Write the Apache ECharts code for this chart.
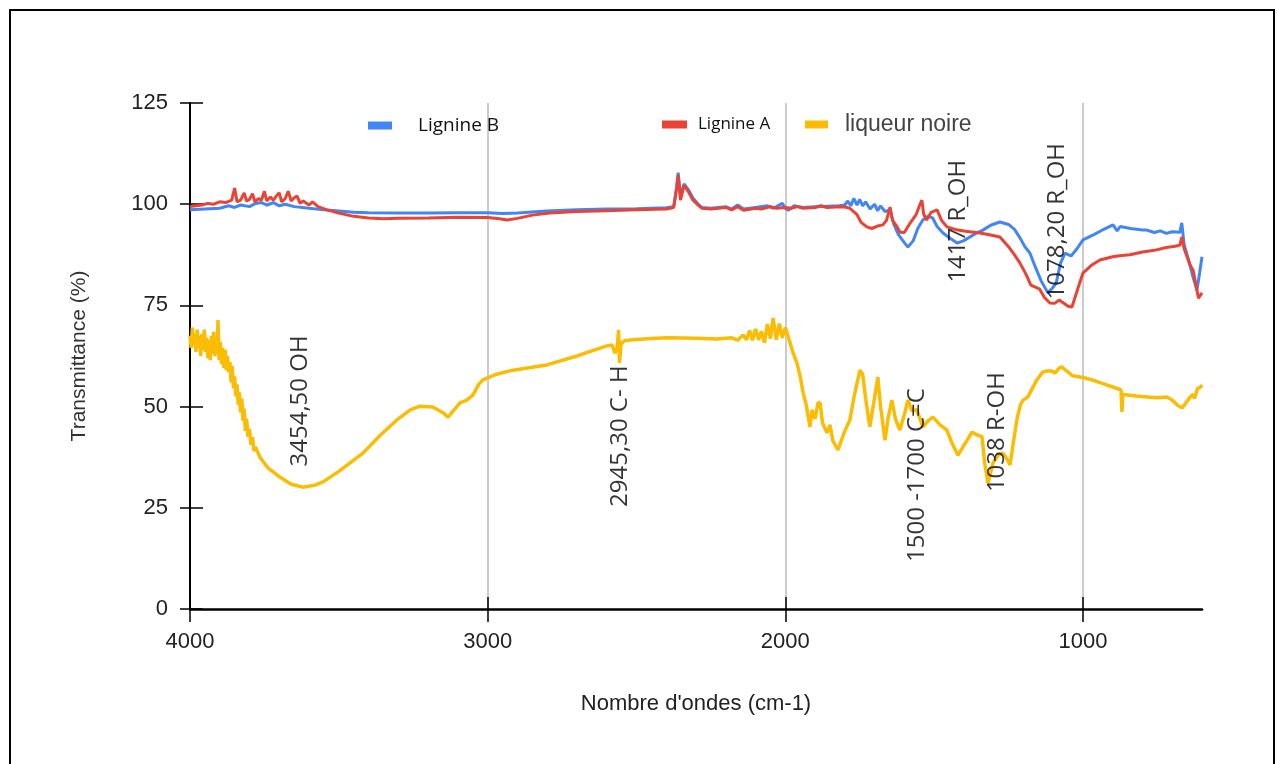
<!DOCTYPE html>
<html>
<head>
<meta charset="utf-8">
<script src="https://cdn.jsdelivr.net/npm/echarts@6/dist/echarts.min.js"></script>
<style>
  html, body { margin: 0; padding: 0; background: #fff; }
  #chart { width: 1277px; height: 764px; }
</style>
</head>
<body>
<div id="chart"></div>
<script>
// wavenumbers (cm-1) and transmittance (%)
const wnB = [4000,3950,3900,3870,3850,3830,3800,3780,3760,3741,3720,3700,3680,3650,3600,3550,3500,3450,3400,3300,3200,3100,3000,2950,2900,2800,2700,2600,2500,2400,2375,2365,2360,2352,2340,2325,2310,2290,2280,2250,2200,2180,2160,2140,2100,2060,2040,2010,2000,1990,1970,1940,1900,1860,1820,1800,1790,1780,1770,1759,1750,1740,1730,1715,1700,1690,1680,1665,1648,1635,1620,1600,1588,1570,1555,1538,1520,1505,1490,1470,1445,1423,1400,1380,1360,1336,1310,1279,1250,1230,1210,1195,1178,1160,1140,1118,1100,1090,1075,1060,1054,1040,1020,1000,960,930,899,885,875,840,800,785,760,740,720,700,674,668,660,645,630,617,608,600];
const lignineB = [98.6,98.8,99.0,99.6,99.2,99.8,99.4,100.2,100.4,99.8,100.4,99.6,100.0,99.4,99.0,98.6,98.3,98.0,97.9,97.8,97.8,97.9,97.9,97.7,97.8,98.3,98.6,98.8,98.9,99.1,99.4,104,107.8,102,105,103.5,101.5,99.8,99.2,99.0,99.4,98.8,99.8,98.8,99.2,99.6,99.0,100.2,99.0,98.5,99.6,99.2,99.4,99.5,99.6,99.8,100.8,99.6,101.4,99.8,101.2,99.6,100.6,98.8,100.0,98.4,99.6,98.2,98.6,95.0,92.5,90.5,89.4,91.0,94.0,96.1,97.0,96.6,94.5,92.9,91.5,90.4,91.0,91.9,92.8,93.6,94.8,95.6,95.0,93.8,91.5,89.5,87.9,84.5,81.0,78.1,79.5,80.5,85.5,87.9,87.9,87.2,89.0,91.2,92.6,93.8,94.9,93.4,94.5,94.0,93.6,93.6,93.0,93.4,92.8,93.2,93.1,95.4,90.0,86.2,82.0,78.8,83.0,87.0];

const wnA = [4000,3980,3960,3940,3920,3900,3880,3860,3850,3842,3830,3818,3810,3800,3790,3782,3770,3760,3750,3742,3730,3720,3710,3700,3692,3680,3670,3660,3650,3640,3630,3620,3600,3588,3570,3540,3500,3450,3400,3350,3300,3200,3100,3000,2960,2935,2900,2850,2791,2700,2600,2500,2400,2375,2365,2360,2352,2340,2325,2310,2290,2280,2250,2200,2180,2160,2140,2100,2080,2050,2030,2000,1980,1960,1940,1900,1880,1860,1820,1800,1783,1760,1745,1726,1710,1690,1672,1660,1648,1640,1625,1615,1600,1580,1560,1550,1541,1535,1525,1510,1490,1475,1457,1440,1420,1400,1380,1346,1310,1279,1250,1230,1212,1190,1175,1160,1145,1130,1111,1095,1080,1065,1050,1037,1020,1000,970,943,900,870,842,800,760,720,690,674,668,660,640,630,620,612,600];
const lignineA = [99.4,99.6,99.8,100.2,100.0,100.6,100.4,101.0,104.0,100.6,101.0,102.8,100.8,101.2,102.6,100.6,101.4,101.0,103.2,100.8,101.8,101.0,102.0,102.8,100.6,101.4,103.2,100.8,101.6,102.0,100.2,100.8,99.8,100.6,99.4,98.6,97.8,97.0,96.6,96.4,96.5,96.6,96.8,96.7,96.4,96.1,96.5,97.3,97.8,98.2,98.4,98.6,98.8,99.2,104,107.2,101,104.7,103,101,99.6,99.0,98.8,99.2,98.6,99.4,98.5,99.0,98.8,99.4,99.0,99.2,99.0,99.4,99.0,99.2,99.6,99.2,99.4,99.3,99.0,97.5,95.5,94.4,94.0,94.6,94.9,96.0,99.3,96.0,94.5,93.1,93.0,95.4,97.5,99.5,101,97.5,96.1,98.0,98.6,96.0,94.4,94.0,93.6,93.4,93.2,92.9,92.4,91.9,89.5,87.5,85.5,82.5,80.0,79.5,79.0,77.0,75.6,75.5,76.3,75.6,74.8,74.6,78.5,83.0,85.0,86.2,87.0,87.3,87.5,88.2,88.6,89.3,89.6,89.9,91.9,89.0,85.0,83.7,80.0,76.8,78.1];

const wnL = [4000,3996,3992,3988,3984,3980,3976,3972,3968,3964,3960,3956,3952,3948,3944,3940,3936,3932,3928,3924,3920,3916,3912,3908,3906,3902,3898,3894,3890,3886,3882,3878,3874,3870,3866,3862,3858,3854,3850,3846,3842,3838,3834,3830,3826,3822,3818,3814,3810,3805,3800,3795,3790,3785,3780,3765,3740,3698,3660,3620,3580,3553,3500,3450,3419,3360,3305,3260,3227,3184,3150,3133,3115,3093,3070,3049,3030,3016,2970,2915,2850,2801,2700,2640,2599,2582,2572,2565,2560,2557,2552,2540,2512,2450,2398,2300,2230,2180,2160,2142,2130,2120,2110,2100,2090,2080,2070,2060,2050,2041,2030,2020,2010,2000,1994,1985,1975,1961,1950,1940,1930,1917,1910,1900,1890,1883,1875,1860,1850,1840,1823,1810,1800,1783,1770,1760,1749,1740,1730,1716,1705,1695,1689,1680,1665,1655,1642,1630,1615,1600,1588,1575,1558,1545,1538,1520,1504,1480,1457,1440,1420,1395,1373,1355,1339,1330,1319,1302,1285,1269,1255,1245,1232,1222,1210,1201,1185,1170,1155,1135,1121,1105,1094,1080,1071,1055,1034,1000,970,930,890,872,869,866,859,820,785,750,718,700,680,667,655,640,630,625,615,605,600];
const liqueurNoire = [67.5,64.5,69.5,65.0,68.0,63.5,69.0,64.5,67.5,62.5,68.0,64.0,69.0,63.5,67.0,62.0,66.5,61.5,67.5,63.0,68.5,62.5,67.0,63.0,71.4,61.5,66.0,60.5,64.5,59.5,64.0,59.0,62.5,58.5,61.0,56.0,60.0,54.5,57.5,52.5,55.5,50.5,53.5,48.5,52.0,46.5,49.5,44.0,47.0,42.5,44.5,40.5,42.5,39.0,40.0,37.5,35.0,32.6,30.8,30.1,30.6,31.4,34.0,36.8,38.5,43.0,46.7,49.2,50.1,49.9,48.5,47.4,49.0,50.9,51.6,52.9,55.5,56.6,58.0,59.0,59.7,60.3,62.5,64.0,65.0,65.2,63.2,64.5,68.9,60.8,65.5,66.3,66.5,66.8,67.0,66.9,66.7,67.0,66.4,67.7,66.5,68.8,66.4,69.2,66.5,68.6,65.8,70.4,66.8,71.9,66.5,70.5,67.0,69.5,68.2,66.0,63.5,60.8,57.5,53.4,50.5,45.0,49.2,47.0,51.0,50.9,46.0,43.5,45.5,41.5,39.3,42.0,44.0,46.7,52.0,55.5,59.0,58.0,52.0,45.0,50.0,54.5,57.3,50.0,41.7,47.0,51.6,47.0,44.2,48.0,51.6,49.0,49.2,46.5,45.0,46.5,47.4,45.5,44.2,41.0,38.0,41.0,43.7,43.0,42.5,36.0,31.1,36.1,38.0,38.5,37.0,35.6,42.0,46.7,50.5,51.6,52.4,54.5,56.6,58.5,58.8,58.8,58.3,59.5,59.8,58.8,57.6,57.2,56.6,55.6,54.6,54.1,48.7,53.0,52.9,52.6,52.4,52.2,52.4,51.6,50.2,49.7,50.8,52.4,53.0,52.0,54.5,54.8,55.3];

// band annotations: text, wavenumber, transmittance at text centre
const annotationText = ['3454,50 OH', '2945,30 C- H', '1500 -1700 C=C', '1038 R-OH', '1417 R_OH', '1078,20 R_OH'];
const annotationWn = [3630, 2555, 1558, 1289, 1420, 1087];
const annotationT = [51.4, 42.7, 33.1, 43.7, 95.8, 95.8];

const xTicks = [1000, 2000, 3000, 4000];

const pairs = (xs, ys) => xs.map((x, i) => [x, ys[i]]);

const chart = echarts.init(document.getElementById('chart'));

const axisFont = { fontFamily: '"Liberation Sans", Arial, sans-serif', fontSize: 22, color: '#222' };

const option = {
  animation: false,
  backgroundColor: '#fff',
  grid: { left: 190, right: 75, top: 103, bottom: 155 },
  graphic: [{
    type: 'rect',
    shape: { x: 10, y: 10, width: 1264, height: 800 },
    style: { fill: 'none', stroke: '#000', lineWidth: 2 },
    silent: true
  }],
  legend: [
    {
      data: ['Lignine B'], left: 363, top: 111,
      icon: 'rect', itemWidth: 24, itemHeight: 8,
      textStyle: { fontFamily: '"Open Sans", sans-serif', fontSize: 19, color: '#111', padding: [0, 0, 0, 21] }
    },
    {
      data: ['Lignine A'], left: 657, top: 111,
      icon: 'rect', itemWidth: 25, itemHeight: 8,
      textStyle: { fontFamily: '"Open Sans", sans-serif', fontSize: 17, color: '#111', padding: [0, 0, 0, 6] }
    },
    {
      data: ['liqueur noire'], left: 800, top: 108,
      icon: 'rect', itemWidth: 23, itemHeight: 8,
      textStyle: { fontFamily: '"Liberation Sans", Arial, sans-serif', fontSize: 23, color: '#444', padding: [0, 0, 0, 12] }
    }
  ],
  xAxis: [
    {
      type: 'value', inverse: true, min: 600, max: 4000,
      name: "Nombre d'ondes (cm-1)", nameLocation: 'middle', nameGap: 84,
      nameTextStyle: Object.assign({}, axisFont, { fontSize: 22 }),
      axisLine: { lineStyle: { color: '#000', width: 2.5 } },
      axisTick: { show: true, length: 13, customValues: xTicks, lineStyle: { color: '#000', width: 1.5 } },
      axisLabel: Object.assign({ margin: 22, customValues: xTicks, formatter: (v) => String(v) }, axisFont),
      splitLine: { show: true, lineStyle: { color: '#ccc', width: 2 } }
    },
    {
      type: 'value', inverse: true, min: 600, max: 4000, position: 'bottom',
      axisLine: { show: false },
      axisTick: { show: true, inside: true, length: 12, customValues: xTicks, lineStyle: { color: '#000', width: 1.5 } },
      axisLabel: { show: false },
      splitLine: { show: false }
    }
  ],
  yAxis: [
    {
      type: 'value', min: 0, max: 125, interval: 25,
      name: 'Transmittance (%)', nameLocation: 'middle', nameGap: 100,
      nameTextStyle: Object.assign({}, axisFont, { fontSize: 21, color: '#333' }),
      axisLine: { show: true, lineStyle: { color: '#000', width: 2 } },
      axisTick: { show: true, length: 10, lineStyle: { color: '#000', width: 1.5 } },
      axisLabel: Object.assign({ margin: 22 }, axisFont),
      splitLine: { show: false }
    },
    {
      type: 'value', min: 0, max: 125, interval: 25, position: 'left',
      axisLine: { show: false },
      axisTick: { show: true, inside: true, length: 13, lineStyle: { color: '#000', width: 1.5 } },
      axisLabel: { show: false },
      splitLine: { show: false }
    }
  ],
  series: [
    {
      name: 'Lignine B', type: 'line', showSymbol: false,
      data: pairs(wnB, lignineB),
      itemStyle: { color: '#4285F4' },
      lineStyle: { color: '#4285F4', width: 3 }
    },
    {
      name: 'Lignine A', type: 'line', showSymbol: false,
      data: pairs(wnA, lignineA),
      itemStyle: { color: '#EA4335' },
      lineStyle: { color: '#EA4335', width: 3 }
    },
    {
      name: 'liqueur noire', type: 'line', showSymbol: false,
      data: pairs(wnL, liqueurNoire),
      itemStyle: { color: '#FBBC04' },
      lineStyle: { color: '#FBBC04', width: 3.5 }
    },
    {
      name: 'annotations', type: 'scatter', symbolSize: 0, silent: true, z: 5,
      data: annotationText.map((t, i) => ({ name: t, value: [annotationWn[i], annotationT[i]] })),
      label: {
        show: true, position: 'inside', rotate: 90,
        formatter: '{b}', align: 'center', verticalAlign: 'middle',
        fontFamily: '"Open Sans", sans-serif', fontSize: 24, color: '#000'
      }
    }
  ]
};

chart.setOption(option);
window.addEventListener('resize', () => chart.resize());
</script>
</body>
</html>
